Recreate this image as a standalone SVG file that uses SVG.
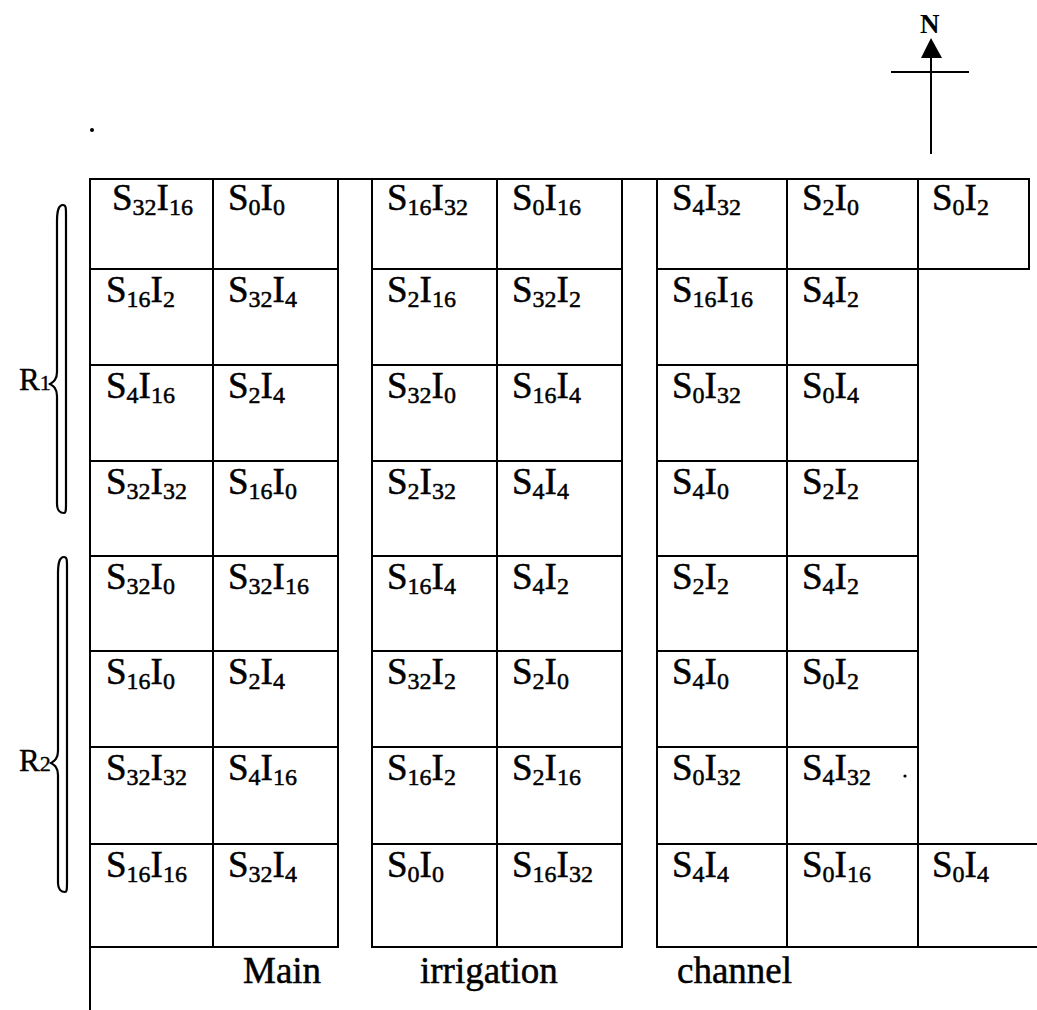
<svg xmlns="http://www.w3.org/2000/svg" width="1037" height="1010" viewBox="0 0 1037 1010">
  <style>
    .cell rect { fill: none; stroke: #000; stroke-width: 2; }
    .ln { stroke: #000; stroke-width: 2; fill: none; }
    .lbl { font-family: "Liberation Serif", "Times New Roman", serif; font-size: 37px; fill: #000; stroke: #000; stroke-width: 0.5; }
    .sub { font-size: 24px; }
    .cap { font-family: "Liberation Serif", "Times New Roman", serif; font-size: 37px; fill: #000; stroke: #000; stroke-width: 0.5; }
    .rl { font-family: "Liberation Serif", "Times New Roman", serif; font-size: 31px; fill: #000; stroke: #000; stroke-width: 0.4; }
    .rs { font-size: 22px; }
    .nl { font-family: "Liberation Serif", "Times New Roman", serif; font-size: 27px; font-weight: bold; fill: #000; }
    .brace { fill: none; stroke: #000; stroke-width: 2.2; }
  </style>
  <rect width="1037" height="1010" fill="#fff"/>

  <!-- north arrow -->
  <g id="north">
    <text x="920" y="33" class="nl">N</text>
    <polygon points="931,38 921,58 942,58" fill="#000"/>
    <line x1="891" y1="72" x2="969" y2="72" class="ln"/>
    <line x1="931" y1="56" x2="931" y2="154" class="ln"/>
  </g>

  <circle cx="92" cy="130" r="2" fill="#000"/>

  <!-- outer boundary lines, channel banks and field-free strips -->
  <g id="connectors">
    <line x1="90" y1="179" x2="1029" y2="179" class="ln"/>
    <line x1="90" y1="947" x2="90" y2="1010" class="ln"/>
    <line x1="918" y1="269" x2="918" y2="844" class="ln"/>
  </g>

  <!-- replication braces -->
  <g id="rep1">
    <path class="brace" d="M63 205 C58 205 57 212 57 222 L57 372 C57 380 53 382 50 384 C53 386 57 388 57 396 L57 504 C57 510 60 513 64 513 C66 513 66 509 66 504 L66 215 C66 208 66 205 63 205 Z"/>
    <text x="19" y="390" class="rl">R<tspan class="rs">1</tspan></text>
  </g>
  <g id="rep2">
    <path class="brace" d="M64 557 C59 557 58 564 58 574 L58 751 C58 759 54 761 51 763 C54 765 58 767 58 775 L58 883 C58 889 61 892 65 892 C67 892 67 888 67 883 L67 567 C67 560 67 557 64 557 Z"/>
    <text x="19" y="771" class="rl">R<tspan class="rs">2</tspan></text>
  </g>

  <!-- row 1 -->
  <g id="r1c1" class="cell"><rect x="90" y="179" width="123" height="90"/><text x="112" y="210" class="lbl">S<tspan class="sub" dy="5">32</tspan><tspan dy="-5">I</tspan><tspan class="sub" dy="5">16</tspan></text></g>
  <g id="r1c2" class="cell"><rect x="213" y="179" width="125" height="90"/><text x="228" y="210" class="lbl">S<tspan class="sub" dy="5">0</tspan><tspan dy="-5">I</tspan><tspan class="sub" dy="5">0</tspan></text></g>
  <g id="r1c3" class="cell"><rect x="372" y="179" width="125" height="90"/><text x="387" y="210" class="lbl">S<tspan class="sub" dy="5">16</tspan><tspan dy="-5">I</tspan><tspan class="sub" dy="5">32</tspan></text></g>
  <g id="r1c4" class="cell"><rect x="497" y="179" width="125" height="90"/><text x="512" y="210" class="lbl">S<tspan class="sub" dy="5">0</tspan><tspan dy="-5">I</tspan><tspan class="sub" dy="5">16</tspan></text></g>
  <g id="r1c5" class="cell"><rect x="657" y="179" width="130" height="90"/><text x="672" y="210" class="lbl">S<tspan class="sub" dy="5">4</tspan><tspan dy="-5">I</tspan><tspan class="sub" dy="5">32</tspan></text></g>
  <g id="r1c6" class="cell"><rect x="787" y="179" width="131" height="90"/><text x="802" y="210" class="lbl">S<tspan class="sub" dy="5">2</tspan><tspan dy="-5">I</tspan><tspan class="sub" dy="5">0</tspan></text></g>
  <g id="r1c7" class="cell"><rect x="918" y="179" width="111" height="90"/><text x="932" y="210" class="lbl">S<tspan class="sub" dy="5">0</tspan><tspan dy="-5">I</tspan><tspan class="sub" dy="5">2</tspan></text></g>

  <!-- row 2 -->
  <g id="r2c1" class="cell"><rect x="90" y="269" width="123" height="96"/><text x="106" y="302" class="lbl">S<tspan class="sub" dy="5">16</tspan><tspan dy="-5">I</tspan><tspan class="sub" dy="5">2</tspan></text></g>
  <g id="r2c2" class="cell"><rect x="213" y="269" width="125" height="96"/><text x="228" y="302" class="lbl">S<tspan class="sub" dy="5">32</tspan><tspan dy="-5">I</tspan><tspan class="sub" dy="5">4</tspan></text></g>
  <g id="r2c3" class="cell"><rect x="372" y="269" width="125" height="96"/><text x="387" y="302" class="lbl">S<tspan class="sub" dy="5">2</tspan><tspan dy="-5">I</tspan><tspan class="sub" dy="5">16</tspan></text></g>
  <g id="r2c4" class="cell"><rect x="497" y="269" width="125" height="96"/><text x="512" y="302" class="lbl">S<tspan class="sub" dy="5">32</tspan><tspan dy="-5">I</tspan><tspan class="sub" dy="5">2</tspan></text></g>
  <g id="r2c5" class="cell"><rect x="657" y="269" width="130" height="96"/><text x="672" y="302" class="lbl">S<tspan class="sub" dy="5">16</tspan><tspan dy="-5">I</tspan><tspan class="sub" dy="5">16</tspan></text></g>
  <g id="r2c6" class="cell"><rect x="787" y="269" width="131" height="96"/><text x="802" y="302" class="lbl">S<tspan class="sub" dy="5">4</tspan><tspan dy="-5">I</tspan><tspan class="sub" dy="5">2</tspan></text></g>

  <!-- row 3 -->
  <g id="r3c1" class="cell"><rect x="90" y="365" width="123" height="96"/><text x="106" y="398" class="lbl">S<tspan class="sub" dy="5">4</tspan><tspan dy="-5">I</tspan><tspan class="sub" dy="5">16</tspan></text></g>
  <g id="r3c2" class="cell"><rect x="213" y="365" width="125" height="96"/><text x="228" y="398" class="lbl">S<tspan class="sub" dy="5">2</tspan><tspan dy="-5">I</tspan><tspan class="sub" dy="5">4</tspan></text></g>
  <g id="r3c3" class="cell"><rect x="372" y="365" width="125" height="96"/><text x="387" y="398" class="lbl">S<tspan class="sub" dy="5">32</tspan><tspan dy="-5">I</tspan><tspan class="sub" dy="5">0</tspan></text></g>
  <g id="r3c4" class="cell"><rect x="497" y="365" width="125" height="96"/><text x="512" y="398" class="lbl">S<tspan class="sub" dy="5">16</tspan><tspan dy="-5">I</tspan><tspan class="sub" dy="5">4</tspan></text></g>
  <g id="r3c5" class="cell"><rect x="657" y="365" width="130" height="96"/><text x="672" y="398" class="lbl">S<tspan class="sub" dy="5">0</tspan><tspan dy="-5">I</tspan><tspan class="sub" dy="5">32</tspan></text></g>
  <g id="r3c6" class="cell"><rect x="787" y="365" width="131" height="96"/><text x="802" y="398" class="lbl">S<tspan class="sub" dy="5">0</tspan><tspan dy="-5">I</tspan><tspan class="sub" dy="5">4</tspan></text></g>

  <!-- row 4 -->
  <g id="r4c1" class="cell"><rect x="90" y="461" width="123" height="95"/><text x="106" y="494" class="lbl">S<tspan class="sub" dy="5">32</tspan><tspan dy="-5">I</tspan><tspan class="sub" dy="5">32</tspan></text></g>
  <g id="r4c2" class="cell"><rect x="213" y="461" width="125" height="95"/><text x="228" y="494" class="lbl">S<tspan class="sub" dy="5">16</tspan><tspan dy="-5">I</tspan><tspan class="sub" dy="5">0</tspan></text></g>
  <g id="r4c3" class="cell"><rect x="372" y="461" width="125" height="95"/><text x="387" y="494" class="lbl">S<tspan class="sub" dy="5">2</tspan><tspan dy="-5">I</tspan><tspan class="sub" dy="5">32</tspan></text></g>
  <g id="r4c4" class="cell"><rect x="497" y="461" width="125" height="95"/><text x="512" y="494" class="lbl">S<tspan class="sub" dy="5">4</tspan><tspan dy="-5">I</tspan><tspan class="sub" dy="5">4</tspan></text></g>
  <g id="r4c5" class="cell"><rect x="657" y="461" width="130" height="95"/><text x="672" y="494" class="lbl">S<tspan class="sub" dy="5">4</tspan><tspan dy="-5">I</tspan><tspan class="sub" dy="5">0</tspan></text></g>
  <g id="r4c6" class="cell"><rect x="787" y="461" width="131" height="95"/><text x="802" y="494" class="lbl">S<tspan class="sub" dy="5">2</tspan><tspan dy="-5">I</tspan><tspan class="sub" dy="5">2</tspan></text></g>

  <!-- row 5 -->
  <g id="r5c1" class="cell"><rect x="90" y="556" width="123" height="95"/><text x="106" y="589" class="lbl">S<tspan class="sub" dy="5">32</tspan><tspan dy="-5">I</tspan><tspan class="sub" dy="5">0</tspan></text></g>
  <g id="r5c2" class="cell"><rect x="213" y="556" width="125" height="95"/><text x="228" y="589" class="lbl">S<tspan class="sub" dy="5">32</tspan><tspan dy="-5">I</tspan><tspan class="sub" dy="5">16</tspan></text></g>
  <g id="r5c3" class="cell"><rect x="372" y="556" width="125" height="95"/><text x="387" y="589" class="lbl">S<tspan class="sub" dy="5">16</tspan><tspan dy="-5">I</tspan><tspan class="sub" dy="5">4</tspan></text></g>
  <g id="r5c4" class="cell"><rect x="497" y="556" width="125" height="95"/><text x="512" y="589" class="lbl">S<tspan class="sub" dy="5">4</tspan><tspan dy="-5">I</tspan><tspan class="sub" dy="5">2</tspan></text></g>
  <g id="r5c5" class="cell"><rect x="657" y="556" width="130" height="95"/><text x="672" y="589" class="lbl">S<tspan class="sub" dy="5">2</tspan><tspan dy="-5">I</tspan><tspan class="sub" dy="5">2</tspan></text></g>
  <g id="r5c6" class="cell"><rect x="787" y="556" width="131" height="95"/><text x="802" y="589" class="lbl">S<tspan class="sub" dy="5">4</tspan><tspan dy="-5">I</tspan><tspan class="sub" dy="5">2</tspan></text></g>

  <!-- row 6 -->
  <g id="r6c1" class="cell"><rect x="90" y="651" width="123" height="96"/><text x="106" y="684" class="lbl">S<tspan class="sub" dy="5">16</tspan><tspan dy="-5">I</tspan><tspan class="sub" dy="5">0</tspan></text></g>
  <g id="r6c2" class="cell"><rect x="213" y="651" width="125" height="96"/><text x="228" y="684" class="lbl">S<tspan class="sub" dy="5">2</tspan><tspan dy="-5">I</tspan><tspan class="sub" dy="5">4</tspan></text></g>
  <g id="r6c3" class="cell"><rect x="372" y="651" width="125" height="96"/><text x="387" y="684" class="lbl">S<tspan class="sub" dy="5">32</tspan><tspan dy="-5">I</tspan><tspan class="sub" dy="5">2</tspan></text></g>
  <g id="r6c4" class="cell"><rect x="497" y="651" width="125" height="96"/><text x="512" y="684" class="lbl">S<tspan class="sub" dy="5">2</tspan><tspan dy="-5">I</tspan><tspan class="sub" dy="5">0</tspan></text></g>
  <g id="r6c5" class="cell"><rect x="657" y="651" width="130" height="96"/><text x="672" y="684" class="lbl">S<tspan class="sub" dy="5">4</tspan><tspan dy="-5">I</tspan><tspan class="sub" dy="5">0</tspan></text></g>
  <g id="r6c6" class="cell"><rect x="787" y="651" width="131" height="96"/><text x="802" y="684" class="lbl">S<tspan class="sub" dy="5">0</tspan><tspan dy="-5">I</tspan><tspan class="sub" dy="5">2</tspan></text></g>

  <!-- row 7 -->
  <g id="r7c1" class="cell"><rect x="90" y="747" width="123" height="97"/><text x="106" y="780" class="lbl">S<tspan class="sub" dy="5">32</tspan><tspan dy="-5">I</tspan><tspan class="sub" dy="5">32</tspan></text></g>
  <g id="r7c2" class="cell"><rect x="213" y="747" width="125" height="97"/><text x="228" y="780" class="lbl">S<tspan class="sub" dy="5">4</tspan><tspan dy="-5">I</tspan><tspan class="sub" dy="5">16</tspan></text></g>
  <g id="r7c3" class="cell"><rect x="372" y="747" width="125" height="97"/><text x="387" y="780" class="lbl">S<tspan class="sub" dy="5">16</tspan><tspan dy="-5">I</tspan><tspan class="sub" dy="5">2</tspan></text></g>
  <g id="r7c4" class="cell"><rect x="497" y="747" width="125" height="97"/><text x="512" y="780" class="lbl">S<tspan class="sub" dy="5">2</tspan><tspan dy="-5">I</tspan><tspan class="sub" dy="5">16</tspan></text></g>
  <g id="r7c5" class="cell"><rect x="657" y="747" width="130" height="97"/><text x="672" y="780" class="lbl">S<tspan class="sub" dy="5">0</tspan><tspan dy="-5">I</tspan><tspan class="sub" dy="5">32</tspan></text></g>
  <g id="r7c6" class="cell"><rect x="787" y="747" width="131" height="97"/><text x="802" y="780" class="lbl">S<tspan class="sub" dy="5">4</tspan><tspan dy="-5">I</tspan><tspan class="sub" dy="5">32</tspan></text><circle cx="905" cy="776" r="1.6" fill="#000"/></g>

  <!-- row 8 -->
  <g id="r8c1" class="cell"><rect x="90" y="844" width="123" height="103"/><text x="106" y="877" class="lbl">S<tspan class="sub" dy="5">16</tspan><tspan dy="-5">I</tspan><tspan class="sub" dy="5">16</tspan></text></g>
  <g id="r8c2" class="cell"><rect x="213" y="844" width="125" height="103"/><text x="228" y="877" class="lbl">S<tspan class="sub" dy="5">32</tspan><tspan dy="-5">I</tspan><tspan class="sub" dy="5">4</tspan></text></g>
  <g id="r8c3" class="cell"><rect x="372" y="844" width="125" height="103"/><text x="387" y="877" class="lbl">S<tspan class="sub" dy="5">0</tspan><tspan dy="-5">I</tspan><tspan class="sub" dy="5">0</tspan></text></g>
  <g id="r8c4" class="cell"><rect x="497" y="844" width="125" height="103"/><text x="512" y="877" class="lbl">S<tspan class="sub" dy="5">16</tspan><tspan dy="-5">I</tspan><tspan class="sub" dy="5">32</tspan></text></g>
  <g id="r8c5" class="cell"><rect x="657" y="844" width="130" height="103"/><text x="672" y="877" class="lbl">S<tspan class="sub" dy="5">4</tspan><tspan dy="-5">I</tspan><tspan class="sub" dy="5">4</tspan></text></g>
  <g id="r8c6" class="cell"><rect x="787" y="844" width="131" height="103"/><text x="802" y="877" class="lbl">S<tspan class="sub" dy="5">0</tspan><tspan dy="-5">I</tspan><tspan class="sub" dy="5">16</tspan></text></g>
  <g id="r8c7" class="cell"><rect x="918" y="844" width="125" height="103"/><text x="932" y="877" class="lbl">S<tspan class="sub" dy="5">0</tspan><tspan dy="-5">I</tspan><tspan class="sub" dy="5">4</tspan></text></g>

  <!-- channel caption -->
  <g id="caption">
    <text x="243" y="983" class="cap">Main</text>
    <text x="420" y="983" class="cap">irrigation</text>
    <text x="677" y="983" class="cap">channel</text>
  </g>
</svg>
